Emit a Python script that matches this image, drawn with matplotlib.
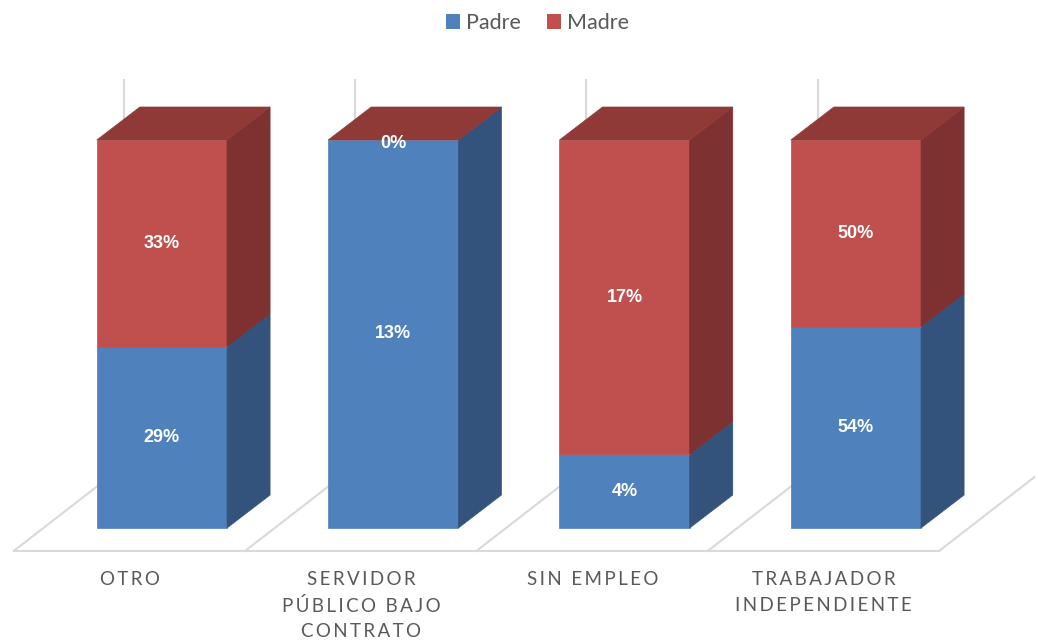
import matplotlib.pyplot as plt
from matplotlib.patches import Polygon, Rectangle, Patch

# Chart data (percent labels as shown, bars are stacked to 100%)
categories = ["OTRO", "SERVIDOR\nPÚBLICO BAJO\nCONTRATO", "SIN EMPLEO", "TRABAJADOR\nINDEPENDIENTE"]
padre = [29, 13, 4, 54]
madre = [33, 0, 17, 50]
series_names = ["Padre", "Madre"]

# colours: front, side, top
blue = ("#4F81BD", "#33537C", "#3E6699")
red = ("#C0504D", "#7D3130", "#903A38")
grid_col = "#D9D9D9"
text_col = "#595959"

plt.rcParams['font.family'] = ['Lato', 'DejaVu Sans']

fig = plt.figure(figsize=(10.38, 6.4), dpi=100)
ax = fig.add_axes([0, 0, 1, 1])
ax.set_xlim(-0.700, 3.787)
ax.set_ylim(-0.2887, 1.3608)
ax.axis('off')

bar_w = 0.563
dx, dy = 0.186, 0.085          # depth of each bar
fdx, fdy = 0.411, 0.190        # depth of the floor
floor_y = -0.059
n = len(categories)

# back wall gridlines
for i in range(n):
    ax.plot([i - 0.165, i - 0.165], [floor_y + fdy, 1.155], color=grid_col, lw=1.5, zorder=1)

# floor
ax.plot([-0.640, n - 0.640], [floor_y, floor_y], color=grid_col, lw=1.5, zorder=1)
for i in range(n + 1):
    xb = i - 0.640
    ax.plot([xb, xb + fdx], [floor_y, floor_y + fdy], color=grid_col, lw=1.5, zorder=1)


def spaced(s):
    return "\n".join("\u2009".join(ch if ch != " " else " " for ch in line) for line in s.split("\n"))


for i in range(n):
    total = padre[i] + madre[i]
    p = padre[i] / total
    segs = [(0.0, p, blue, padre[i]), (p, 1.0, red, madre[i])]
    x0, x1 = i - bar_w / 2, i + bar_w / 2
    for y0, y1, col, val in segs:
        if y1 > y0:
            ax.add_patch(Rectangle((x0, y0), bar_w, y1 - y0, facecolor=col[0],
                                   edgecolor=col[0], lw=0.5, zorder=3))
            ax.add_patch(Polygon([(x1, y0), (x1 + dx, y0 + dy), (x1 + dx, y1 + dy), (x1, y1)],
                                 closed=True, facecolor=col[1], edgecolor=col[1], lw=0.5, zorder=3))
        ax.text(i, (y0 + y1) / 2 if y1 > y0 else y1 - 0.008, f"{val}%", ha='center', va='center',
                color='white', fontsize=13, fontweight='bold', family='Liberation Sans',
                zorder=5)
    ax.add_patch(Polygon([(x0, 1.0), (x1, 1.0), (x1 + dx, 1.0 + dy), (x0 + dx, 1.0 + dy)],
                         closed=True, facecolor=red[2], edgecolor=red[2], lw=0.5, zorder=4))
    ax.text(i - 0.140, -0.112, spaced(categories[i]), ha='center', va='top',
            color=text_col, fontsize=13.5, linespacing=1.58)

handles = [Patch(facecolor=blue[0], label=series_names[0]),
           Patch(facecolor=red[0], label=series_names[1])]
leg = fig.legend(handles=handles, loc='center', bbox_to_anchor=(0.518, 1 - 23 / 640), ncol=2,
                 frameon=False, fontsize=15.5, handlelength=0.65, handleheight=0.65,
                 handletextpad=0.3, columnspacing=1.2)
for t in leg.get_texts():
    t.set_color(text_col)

fig.savefig("out.png", dpi=100)
